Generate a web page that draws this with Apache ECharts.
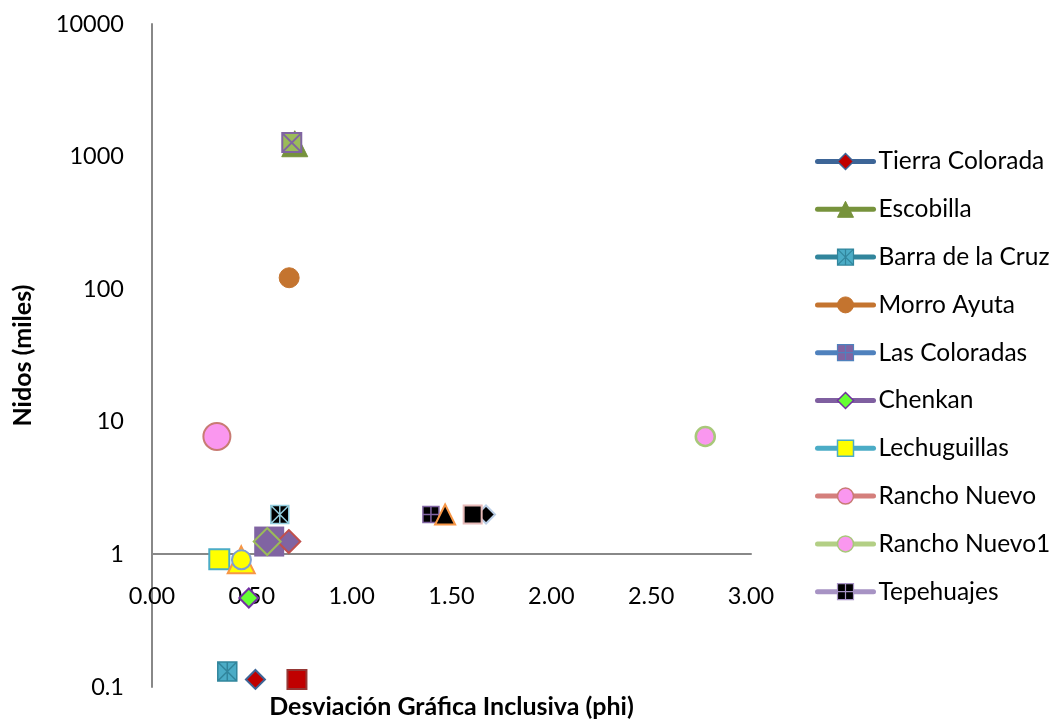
<!DOCTYPE html>
<html>
<head>
<meta charset="utf-8">
<script src="https://cdn.jsdelivr.net/npm/echarts@6/dist/echarts.min.js"></script>
<style>
html,body{margin:0;padding:0;background:#fff;}
#chart{width:1050px;height:721px;}
</style>
</head>
<body>
<div id="chart"></div>
<script>
// ---------- Data ----------
const seriesNames = ['Tierra Colorada','Escobilla','Barra de la Cruz','Morro Ayuta','Las Coloradas','Chenkan','Lechuguillas','Rancho Nuevo','Rancho Nuevo1','Tepehuajes'];
const xTicks = [0, 0.5, 1, 1.5, 2, 2.5, 3];
const yTicks = [0.1, 1, 10, 100, 1000, 10000];

const tierraColoradaX = [0.518, 0.726];
const tierraColoradaY = [0.114, 0.114];
const escobillaX = [0.715];
const escobillaY = [1250];
const barraDeLaCruzX = [0.377, 0.64];
const barraDeLaCruzY = [0.131, 2.0];
const morroAyutaX = [0.687];
const morroAyutaY = [122];
const lasColoradasX = [0.587, 1.673, 1.606];
const lasColoradasY = [1.25, 2.0, 2.0];
const chenkanX = [0.485, 0.685, 0.577];
const chenkanY = [0.469, 1.25, 1.25];
const lechuguillasX = [0.337, 0.447, 0.448];
const lechuguillasY = [0.92, 0.91, 0.91];
const ranchoNuevoX = [0.325];
const ranchoNuevoY = [7.75];
const ranchoNuevo1X = [2.771];
const ranchoNuevo1Y = [7.75];
const tepehuajesX = [1.397, 1.468, 0.70];
const tepehuajesY = [2.0, 2.0, 1275];

const seriesX = [tierraColoradaX, escobillaX, barraDeLaCruzX, morroAyutaX, lasColoradasX, chenkanX, lechuguillasX, ranchoNuevoX, ranchoNuevo1X, tepehuajesX];
const seriesY = [tierraColoradaY, escobillaY, barraDeLaCruzY, morroAyutaY, lasColoradasY, chenkanY, lechuguillasY, ranchoNuevoY, ranchoNuevo1Y, tepehuajesY];

// ---------- Styles ----------
const STAR = 'path://M0,0L20,0L20,20L0,20Z M0,0L20,20 M20,0L0,20 M10,0L10,20';
const PLUS = 'path://M0,0L20,0L20,20L0,20Z M10,0L10,20 M0,10L20,10';
const XMARK = 'path://M0,0L20,0L20,20L0,20Z M0,0L20,20 M20,0L0,20';

const lineColors = ['#3D6597','#77933C','#31859C','#C4742F','#4F81BD','#7F5FA0','#4BACC6','#D47F7C','#B3CF85','#A793C4'];
// legend marker per series
const legendMarks = [
  {symbol:'diamond', fill:'#C00000', stroke:'#3D6597', bw:1.5},
  {symbol:'triangle', fill:'#77933C', stroke:'#77933C', bw:1},
  {symbol:STAR, fill:'#4BACC6', stroke:'#31859C', bw:1.2},
  {symbol:'circle', fill:'#C4742F', stroke:'#C4742F', bw:1},
  {symbol:PLUS, fill:'#8064A2', stroke:'#4F81BD', bw:1.2},
  {symbol:'diamond', fill:'#66FF33', stroke:'#7030A0', bw:1.5},
  {symbol:'rect', fill:'#FFFF00', stroke:'#4BACC6', bw:1.5},
  {symbol:'circle', fill:'#FA97EF', stroke:'#C87B73', bw:1.5},
  {symbol:'circle', fill:'#FA97EF', stroke:'#A8C87A', bw:1.5},
  {symbol:PLUS, fill:'#000000', stroke:'#A793C4', bw:1.2}
];
// plotted marker per point
const pointMarks = [
  [{symbol:'diamond', size:19, fill:'#C00000', stroke:'#3D6597', bw:2},
   {symbol:'rect', size:19, fill:'#C00000', stroke:'#953735', bw:2}],
  [{symbol:'triangle', size:26, fill:'#76923C', stroke:'#76923C', bw:1}],
  [{symbol:STAR, size:19, fill:'#4BACC6', stroke:'#31859C', bw:1.5},
   {symbol:STAR, size:18, fill:'#000000', stroke:'#93CDDD', bw:1.5}],
  [{symbol:'circle', size:20, fill:'#C4742F', stroke:'#C4742F', bw:1}],
  [{symbol:'rect', size:30, fill:'#8064A2', stroke:'#8064A2', bw:0},
   {symbol:'diamond', size:18, fill:'#000000', stroke:'#B9CDE5', bw:2},
   {symbol:'rect', size:18, fill:'#000000', stroke:'#E6B9B8', bw:2}],
  [{symbol:'diamond', size:19, fill:'#66FF33', stroke:'#7030A0', bw:2},
   {symbol:'diamond', size:23, fill:'#8064A2', stroke:'#C0504D', bw:2},
   {symbol:'diamond', size:27, fill:'#8064A2', stroke:'#9BBB59', bw:2}],
  [{symbol:'rect', size:20, fill:'#FFFF00', stroke:'#4BACC6', bw:2},
   {symbol:'triangle', size:27, fill:'#FFFF00', stroke:'#F79646', bw:2},
   {symbol:'circle', size:19, fill:'#FFFF00', stroke:'#7F9FD0', bw:2}],
  [{symbol:'circle', size:27, fill:'#FA97EF', stroke:'#C87B73', bw:2}],
  [{symbol:'circle', size:19, fill:'#FA97EF', stroke:'#A8C87A', bw:2.5}],
  [{symbol:PLUS, size:16, fill:'#000000', stroke:'#8064A2', bw:1.5},
   {symbol:'triangle', size:20, fill:'#000000', stroke:'#F79646', bw:2},
   {symbol:XMARK, size:19, fill:'#9BBB59', stroke:'#8064A2', bw:2}]
];

const FONT = 'Lato';

const series = seriesNames.map((name, i) => ({
  name: name,
  type: 'line',
  symbol: legendMarks[i].symbol,
  symbolSize: 14,
  showSymbol: true,
  showAllSymbol: true,
  lineStyle: {width: 0, opacity: 0},
  itemStyle: {color: legendMarks[i].fill, borderColor: legendMarks[i].stroke, borderWidth: legendMarks[i].bw},
  emphasis: {disabled: true},
  z: 2,
  data: seriesX[i].map((x, j) => {
    const m = pointMarks[i][j];
    return {
      value: [x, seriesY[i][j]],
      symbol: m.symbol,
      symbolSize: m.size,
      itemStyle: {color: m.fill, borderColor: m.stroke, borderWidth: m.bw, opacity: 1}
    };
  })
}));

const option = {
  animation: false,
  backgroundColor: '#ffffff',
  textStyle: {fontFamily: FONT},
  grid: {left: 152, right: 299, top: 24, bottom: 34, containLabel: false, outerBoundsMode: 'none'},
  legend: {
    orient: 'vertical',
    left: 815,
    top: 149,
    padding: 0,
    itemWidth: 56,
    itemHeight: 20,
    itemGap: 22.8,
    selectedMode: false,
    textStyle: {fontFamily: FONT, fontSize: 24.5, color: '#000'},
    data: seriesNames.map((n, i) => ({
      name: n,
      itemStyle: {color: legendMarks[i].fill, borderColor: legendMarks[i].stroke, borderWidth: legendMarks[i].bw, opacity: 1},
      lineStyle: {color: lineColors[i], width: 5, opacity: 1, cap: 'round'}
    }))
  },
  xAxis: {
    type: 'value',
    min: xTicks[0],
    max: xTicks[xTicks.length - 1],
    interval: 0.5,
    offset: -133,
    name: 'Desviación Gráfica Inclusiva (phi)',
    nameLocation: 'middle',
    nameGap: 140,
    nameTextStyle: {fontFamily: FONT, fontSize: 25, fontWeight: 'bold', color: '#000'},
    axisLine: {onZero: false, lineStyle: {color: '#888888', width: 2}},
    axisTick: {show: false},
    splitLine: {show: false},
    axisLabel: {margin: 30, fontSize: 23.5, color: '#000', fontFamily: FONT, formatter: v => v.toFixed(2)}
  },
  yAxis: {
    type: 'log',
    logBase: 10,
    min: yTicks[0],
    max: yTicks[yTicks.length - 1],
    name: 'Nidos (miles)',
    nameLocation: 'middle',
    nameGap: 117,
    nameRotate: 90,
    nameTextStyle: {fontFamily: FONT, fontSize: 25, fontWeight: 'bold', color: '#000'},
    axisLine: {show: true, onZero: false, lineStyle: {color: '#888888', width: 2}},
    axisTick: {show: false},
    splitLine: {show: false},
    axisLabel: {margin: 28, fontSize: 23.5, color: '#000', fontFamily: FONT,
      formatter: v => { const r = Math.round(v * 10) / 10; return String(r); }}
  },
  series: series
};

const chart = echarts.init(document.getElementById('chart'), null, {renderer: 'canvas'});
chart.setOption(option);
</script>
</body>
</html>
